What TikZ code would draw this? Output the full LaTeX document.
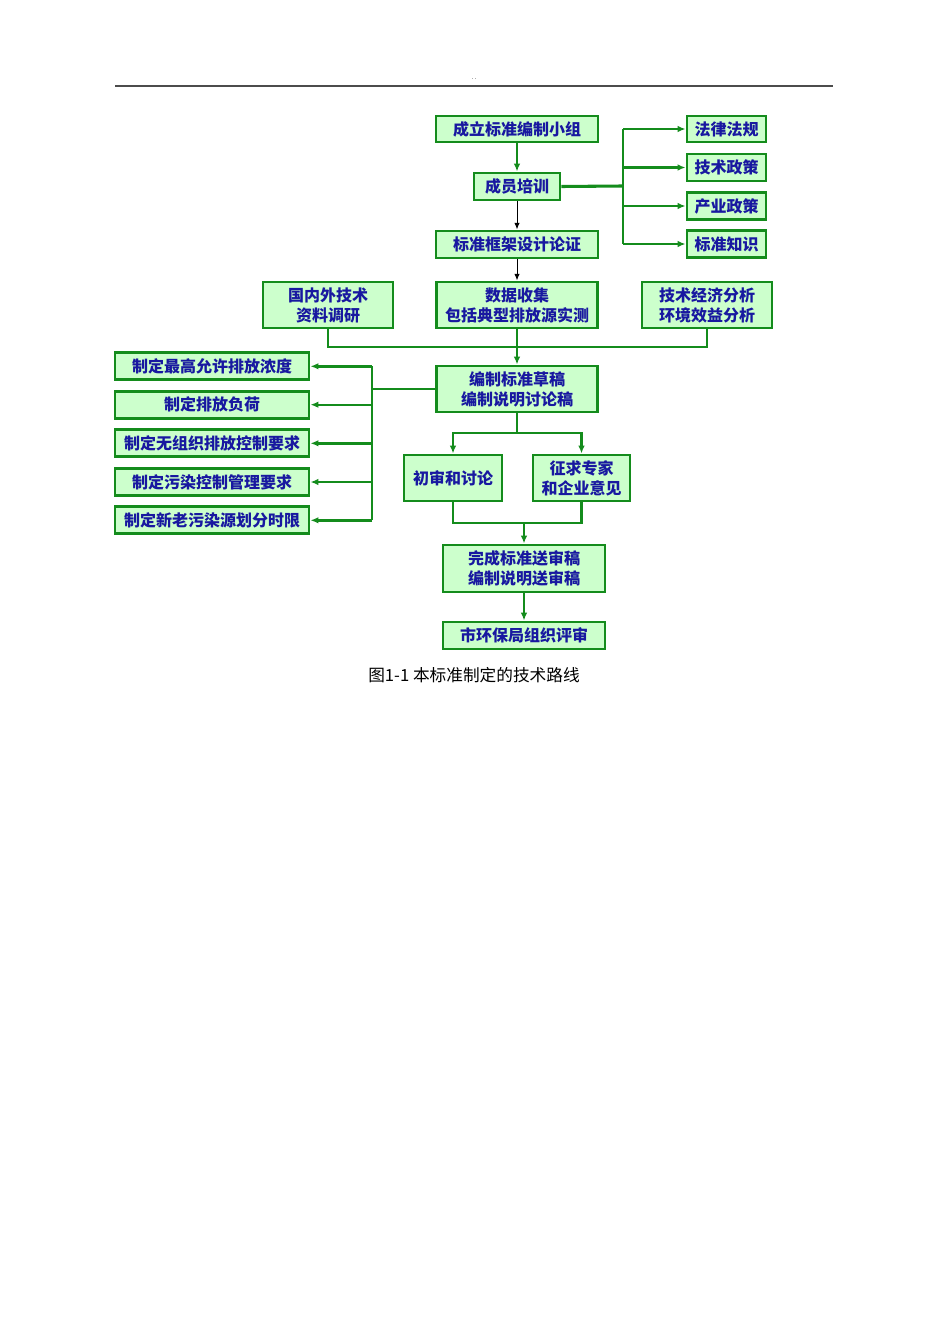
\documentclass[tikz,border=0pt]{standalone}
\usepackage{fontspec}
\newfontfamily\cjk{Noto Sans CJK SC}
\usetikzlibrary{arrows.meta}
\definecolor{bgreen}{RGB}{20,140,28}
\definecolor{bfill}{RGB}{204,255,204}
\definecolor{tblue}{RGB}{24,24,160}
\tikzset{
  box/.style={draw=bgreen, line width=2.2pt, fill=bfill, inner sep=0pt,
    font=\cjk\bfseries\fontsize{12}{15}\selectfont, text=tblue, align=center},
  gline/.style={draw=bgreen, line width=1.8pt},
  garrow/.style={gline, -{Latex[length=6pt,width=5pt]}},
  karrow/.style={draw=black, line width=0.7pt, -{Latex[length=5pt,width=4pt]}}
}
\begin{document}
\begin{tikzpicture}[x=0.75pt,y=-0.75pt]
\useasboundingbox[fill=white] (0,0) rectangle (950,1344);
% header
\draw[line width=1.1pt, draw=black!70] (115,86) -- (833,86);
\node[font=\fontsize{5}{5}\selectfont, inner sep=0pt] (dots) at (474,79) {..};
% top column
\node[box, minimum width={162*0.75pt}, minimum height={26*0.75pt}] (a1) at (517,129) {成立标准编制小组};
\node[box, minimum width={86*0.75pt}, minimum height={27*0.75pt}] (a2) at (517,186.5) {成员培训};
\node[box, minimum width={162*0.75pt}, minimum height={27*0.75pt}] (a3) at (517,244.5) {标准框架设计论证};
% right column
\node[box, minimum width={79*0.75pt}, minimum height={26*0.75pt}] (r1) at (726.5,129) {法律法规};
\node[box, minimum width={79*0.75pt}, minimum height={27*0.75pt}] (r2) at (726.5,167.5) {技术政策};
\node[box, minimum width={79*0.75pt}, minimum height={27*0.75pt}] (r3) at (726.5,206) {产业政策};
\node[box, minimum width={79*0.75pt}, minimum height={27*0.75pt}] (r4) at (726.5,244) {标准知识};
% second row
\node[box, minimum width={130*0.75pt}, minimum height={46*0.75pt}] (b1) at (328,305) {国内外技术\\资料调研};
\node[box, minimum width={161*0.75pt}, minimum height={46*0.75pt}] (b2) at (517,305) {数据收集\\包括典型排放源实测};
\node[box, minimum width={130*0.75pt}, minimum height={46*0.75pt}] (b3) at (707,305) {技术经济分析\\环境效益分析};
\node[box, minimum width={161*0.75pt}, minimum height={46*0.75pt}] (c) at (517,389) {编制标准草稿\\编制说明讨论稿};
% left column
\node[box, minimum width={194*0.75pt}, minimum height={27*0.75pt}] (l1) at (212,366.3) {制定最高允许排放浓度};
\node[box, minimum width={194*0.75pt}, minimum height={27*0.75pt}] (l2) at (212,404.7) {制定排放负荷};
\node[box, minimum width={194*0.75pt}, minimum height={27*0.75pt}] (l3) at (212,443.3) {制定无组织排放控制要求};
\node[box, minimum width={194*0.75pt}, minimum height={27*0.75pt}] (l4) at (212,482) {制定污染控制管理要求};
\node[box, minimum width={194*0.75pt}, minimum height={27*0.75pt}] (l5) at (212,520.3) {制定新老污染源划分时限};
% review
\node[box, minimum width={98*0.75pt}, minimum height={46*0.75pt}] (d1) at (453,478) {初审和讨论};
\node[box, minimum width={97*0.75pt}, minimum height={46*0.75pt}] (d2) at (581.5,478) {征求专家\\和企业意见};
\node[box, minimum width={162*0.75pt}, minimum height={47*0.75pt}] (e) at (524,568.5) {完成标准送审稿\\编制说明送审稿};
\node[box, minimum width={162*0.75pt}, minimum height={27*0.75pt}] (f) at (524,635.5) {市环保局组织评审};
% caption
\node[font=\cjk\fontsize{12.5}{15}\selectfont, inner sep=0pt] (cap) at (474,675) {图1-1 本标准制定的技术路线};
% coordinates
\coordinate (jR) at (623,186);
\coordinate (jB) at (517,347);
\coordinate (jL) at (372,389);
\coordinate (jD) at (517,433);
\coordinate (jE) at (524,523);
% connectors top
\draw[garrow] (a1) -- (a2);
\draw[karrow] (a2) -- (a3);
\draw[karrow] (a3) -- (b2);
\draw[gline, line width=2.3pt] (a2.east) -- (jR);
\draw[gline] (jR |- r1.west) -- (jR |- r4.west);
\draw[garrow] (jR |- r1.west) -- (r1.west);
\draw[garrow] (jR |- r2.west) -- (r2.west);
\draw[garrow] (jR |- r3.west) -- (r3.west);
\draw[garrow] (jR |- r4.west) -- (r4.west);
% second row merge
\draw[gline] (b1.south) |- (jB);
\draw[gline] (b3.south) |- (jB);
\draw[garrow] (b2) -- (c);
% left branch
\draw[gline] (c.west) -- (jL);
\draw[gline] (jL |- l1.east) -- (jL |- l5.east);
\draw[garrow] (jL |- l1.east) -- (l1.east);
\draw[garrow] (jL |- l2.east) -- (l2.east);
\draw[garrow] (jL |- l3.east) -- (l3.east);
\draw[garrow] (jL |- l4.east) -- (l4.east);
\draw[garrow] (jL |- l5.east) -- (l5.east);
% review branch
\draw[gline] (c.south) -- (jD);
\draw[garrow] (jD) -| (d1.north);
\draw[garrow] (jD) -| (d2.north);
\draw[gline] (d1.south) |- (jE);
\draw[gline] (d2.south) |- (jE);
\draw[garrow] (jE) -- (e.north);
\draw[garrow] (e) -- (f);
\end{tikzpicture}
\end{document}
